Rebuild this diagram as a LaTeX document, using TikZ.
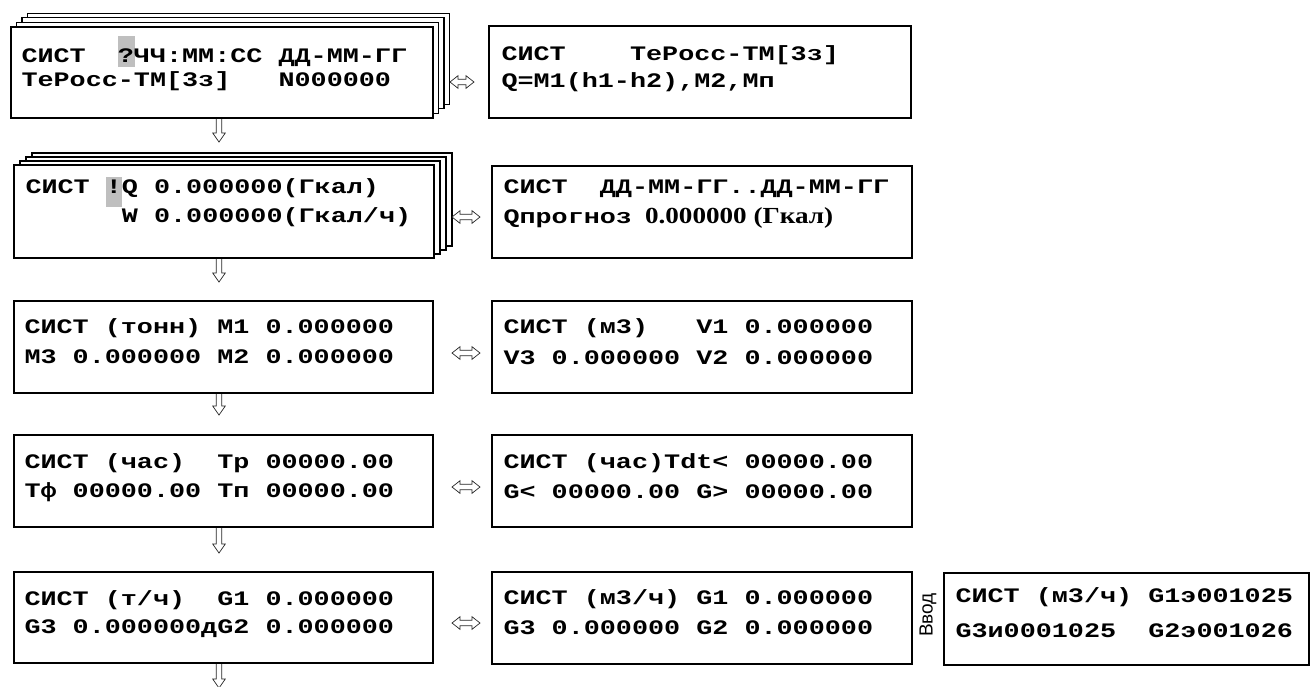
\documentclass[tikz,border=0pt]{standalone}
\usepackage{fontspec}
\newfontfamily\lcd{Liberation Mono}[FakeStretch=1.3]
\newfontfamily\lser{Liberation Serif}[FakeStretch=1.18]
\newfontfamily\lsans{Liberation Sans}
\usetikzlibrary{calc}
% outline double arrows (like the glyphs ⇓ and ⇔), drawn between named coordinates
\newcommand\vdarrow[2]{%
  \draw[arrline] ($(#1)+(-2.7,0)$) -- ($(#2)+(-2.7,-9)$) -- ($(#2)+(-6.3,-9)$) -- (#2)
    -- ($(#2)+(6.3,-9)$) -- ($(#2)+(2.7,-9)$) -- ($(#1)+(2.7,0)$);}
\newcommand\hdarrow[2]{%
  \draw[arrline] (#1) -- ($(#1)+(8,-6.3)$) -- ($(#1)+(8,-2.7)$) -- ($(#2)+(-8,-2.7)$)
    -- ($(#2)+(-8,-6.3)$) -- (#2) -- ($(#2)+(-8,6.3)$) -- ($(#2)+(-8,2.7)$)
    -- ($(#1)+(8,2.7)$) -- ($(#1)+(8,6.3)$) -- cycle;}
\begin{document}
\begin{tikzpicture}[x=1pt,y=-1pt,
  box/.style={draw, line width=1.2pt, fill=white, anchor=north west, inner sep=0pt, outer sep=0pt},
  txt/.style={anchor=base west, inner sep=0pt, outer sep=0pt, font=\lcd\bfseries\fontsize{20.6}{24}\selectfont},
  sertxt/.style={anchor=base west, inner sep=0pt, outer sep=0pt, font=\lser\bfseries\fontsize{23}{26}\selectfont},
  hl/.style={fill=black!25, draw=none},
  arrline/.style={draw=black!85, line width=0.7pt, line join=miter},
]
\useasboundingbox (0,0) rectangle (1311,686);
\fill[white] (0,0) rectangle (1311,686);

% ---- row 1 ----
\foreach \k in {3,2,1}{
  \node[box, minimum width=422pt, minimum height=91pt] (L1s\k) at ({11+5.5*\k},{27-4.6*\k}) {};
}
\node[box, minimum width=422pt, minimum height=91pt] (L1) at (11,27) {};
\fill[hl] (118,36) rectangle (134.5,67);
\node[txt] (t1a) at (21.5,62) {СИСТ~~?ЧЧ:ММ:СС~ДД-ММ-ГГ};
\node[txt] (t1b) at (21.5,86) {ТеРосс-ТМ[3з]~~~N000000};

\node[box, minimum width=422pt, minimum height=92pt] (R1) at (489,26) {};
\node[txt] (u1a) at (501.5,60) {СИСТ~~~~ТеРосс-ТМ[3з]};
\node[txt] (u1b) at (501.5,87) {Q=M1(h1-h2),M2,Mп};

% ---- row 2 ----
\foreach \k in {3,2,1}{
  \node[box, minimum width=420pt, minimum height=93pt] (L2s\k) at ({14+6*\k},{165-4*\k}) {};
}
\node[box, minimum width=420pt, minimum height=93pt] (L2) at (14,165) {};
\fill[hl] (105.5,177) rectangle (122,207);
\node[txt] (t2a) at (25.5,193) {СИСТ~!Q~0.000000(Гкал)};
\node[txt] (t2b) at (25.5,222) {~~~~~~W~0.000000(Гкал/ч)};

\node[box, minimum width=420pt, minimum height=92pt] (R2) at (492,166) {};
\node[txt] (u2a) at (503.5,193) {СИСТ~~ДД-ММ-ГГ..ДД-ММ-ГГ};
\node[txt] (u2b) at (503.5,223) {Qпрогноз};
\node[sertxt] (u2c) at (645,223) {0.000000 (Гкал)};

% ---- row 3 ----
\node[box, minimum width=419pt, minimum height=92pt] (L3) at (14,301) {};
\node[txt] (t3a) at (24.5,333) {СИСТ~(тонн)~M1~0.000000};
\node[txt] (t3b) at (24.5,363) {M3~0.000000~M2~0.000000};
\node[box, minimum width=420pt, minimum height=92pt] (R3) at (492,301) {};
\node[txt] (u3a) at (503.5,333) {СИСТ~(м3)~~~V1~0.000000};
\node[txt] (u3b) at (503.5,364) {V3~0.000000~V2~0.000000};

% ---- row 4 ----
\node[box, minimum width=419pt, minimum height=92pt] (L4) at (14,435) {};
\node[txt] (t4a) at (24.5,468) {СИСТ~(час)~~Tр~00000.00};
\node[txt] (t4b) at (24.5,497) {Tф~00000.00~Tп~00000.00};
\node[box, minimum width=420pt, minimum height=92pt] (R4) at (492,435) {};
\node[txt] (u4a) at (503.5,468) {СИСТ~(час)Tdt<~00000.00};
\node[txt] (u4b) at (503.5,498) {G<~00000.00~G>~00000.00};

% ---- row 5 ----
\node[box, minimum width=419pt, minimum height=91pt] (L5) at (14,572) {};
\node[txt] (t5a) at (24.5,605) {СИСТ~(т/ч)~~G1~0.000000};
\node[txt] (t5b) at (24.5,633) {G3~0.000000дG2~0.000000};
\node[box, minimum width=420pt, minimum height=92pt] (R5) at (492,572) {};
\node[txt] (u5a) at (503.5,604) {СИСТ~(м3/ч)~G1~0.000000};
\node[txt] (u5b) at (503.5,634) {G3~0.000000~G2~0.000000};
\node[box, minimum width=365pt, minimum height=92pt] (Q5) at (944,573) {};
\node[txt] (w5a) at (955.5,602) {СИСТ~(м3/ч)~G1э001025};
\node[txt] (w5b) at (955.5,637) {G3и0001025~~G2э001026};
\node[rotate=90, inner sep=0pt, font=\lsans\fontsize{19}{22}\selectfont] (vvod) at (928,615) {Ввод};

% ---- vertical arrows ----
\coordinate (v1) at (219,142);
\coordinate (v2) at (219,282);
\coordinate (v3) at (219,415);
\coordinate (v4) at (219,553);
\coordinate (v5) at (219,688);
\coordinate (v1s) at ([yshift=-1pt]L1.south -| v1);
\coordinate (v2s) at ([yshift=-1pt]L2.south -| v2);
\coordinate (v3s) at ([yshift=-1pt]L3.south -| v3);
\coordinate (v4s) at ([yshift=-1pt]L4.south -| v4);
\coordinate (v5s) at ([yshift=-1pt]L5.south -| v5);
\vdarrow{v1s}{v1}
\vdarrow{v2s}{v2}
\vdarrow{v3s}{v3}
\vdarrow{v4s}{v4}
\vdarrow{v5s}{v5}

% ---- horizontal arrows ----
\coordinate (h1a) at (450,82);  \coordinate (h1b) at (474,82);
\coordinate (h2a) at (452,217); \coordinate (h2b) at (480,217);
\coordinate (h3a) at (452,353); \coordinate (h3b) at (480,353);
\coordinate (h4a) at (452,487); \coordinate (h4b) at (480,487);
\coordinate (h5a) at (452,623); \coordinate (h5b) at (480,623);
\hdarrow{h1a}{h1b}
\hdarrow{h2a}{h2b}
\hdarrow{h3a}{h3b}
\hdarrow{h4a}{h4b}
\hdarrow{h5a}{h5b}
\end{tikzpicture}
\end{document}
